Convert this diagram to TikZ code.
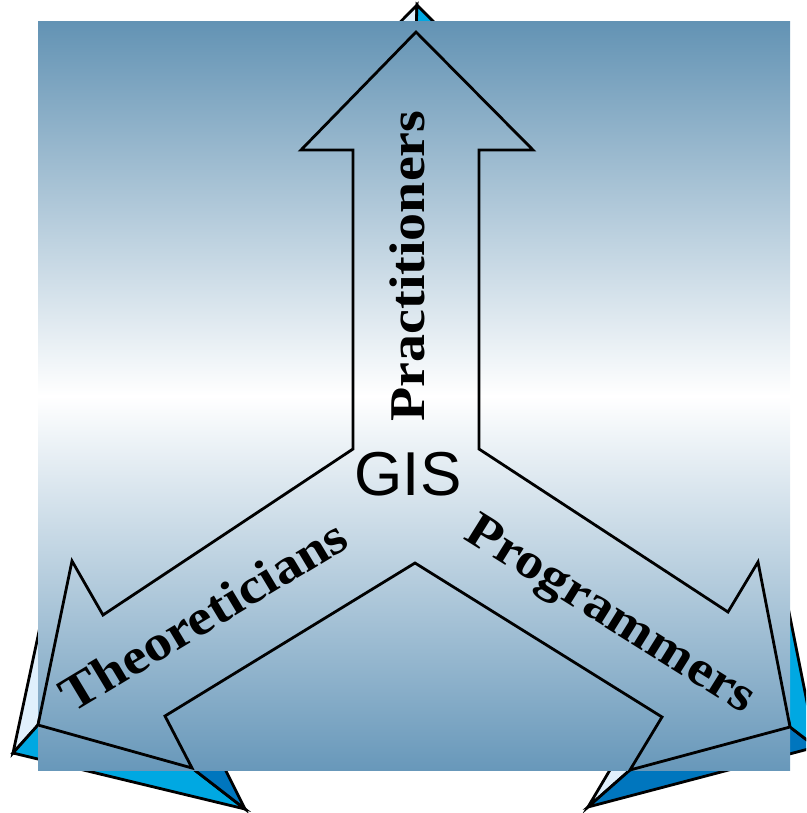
\documentclass[tikz,border=0pt]{standalone}
\usepackage{fontspec}
\setmainfont{Liberation Serif}
\newfontfamily\armfont{Liberation Serif}[FakeStretch=1.12]
\newfontfamily\gisfont{Liberation Sans}
\definecolor{steeltop}{RGB}{99,147,180}
\definecolor{steelbottom}{RGB}{104,152,186}
\definecolor{pale}{RGB}{224,240,252}
\definecolor{sky}{RGB}{0,168,226}
\definecolor{deep}{RGB}{0,118,190}

\tikzset{face/.style={draw=black,line width=2.8pt},
         armtext/.style={font=\armfont\bfseries\fontsize{50}{50}\selectfont,anchor=base,inner sep=0pt}}

\begin{document}
\begin{tikzpicture}[x=1pt,y=-1pt]
                  \useasboundingbox (0,0) rectangle (806,813);
                  \clip (0,0) rectangle (806,813);
                  % back of the arrow, only the tips show
                  \filldraw[face,fill=pale] (417,5) -- (302,122) -- (301,150) -- (416,32) -- cycle;
                  \filldraw[face,fill=sky] (417,5) -- (533,122) -- (533,150) -- (416,32) -- cycle;
                  \filldraw[face,fill=pale] (13,753) -- (65,510) -- (72,562) -- (38,725) -- cycle;
                  \filldraw[face,fill=sky] (13,753) -- (38,725) -- (192,768) -- (245,809) -- cycle;
                  \filldraw[face,fill=deep] (192,768) -- (245,809) -- (205,729) -- (165,716) -- cycle;
                  \filldraw[face,fill=pale] (630,770) -- (588,807) -- (636,726) -- (662,717) -- cycle;
                  \filldraw[face,fill=deep] (790,727) -- (816,747) -- (588,807) -- (630,770) -- cycle;
                  \filldraw[face,fill=sky] (790,727) -- (758,562) -- (769,512) -- (816,747) -- cycle;
                  % background
                  \shade[top color=steeltop,bottom color=steelbottom,middle color=white] (38,22) rectangle (790,770);
                  % front of the arrow
                  \draw[face] (416,32) -- (533,150) -- (479,150) -- (479,449) -- (728,612) -- (758,562)
                        -- (790,727) -- (630,770) -- (662,717) -- (415,563) -- (165,716) -- (192,768)
                        -- (38,725) -- (72,561) -- (103,615) -- (353,449) -- (353,150) -- (301,150) -- cycle;
                  \node[armtext,rotate=90] (practitioners) at (424,266) {Practitioners};
                  \node[armtext,rotate=31] (theoreticians) at (212,630) {Theoreticians};
                  \node[armtext,rotate=-32] (programmers) at (603,626) {Programmers};
                  \node[font=\gisfont\fontsize{62}{62}\selectfont,anchor=base,inner sep=0pt] (gis) at (408,495) {GIS};
              \end{tikzpicture}
\end{document}
